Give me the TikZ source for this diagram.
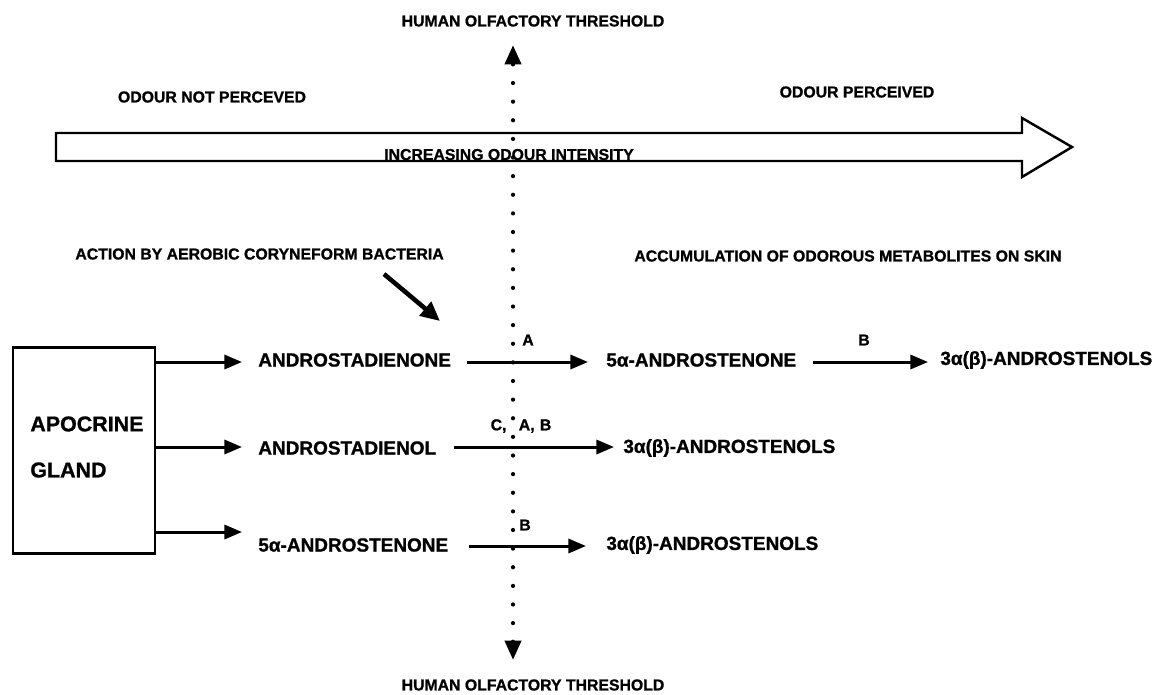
\documentclass[tikz,border=0pt]{standalone}
\usepackage{fontspec}
\setmainfont{Liberation Sans}
\newfontfamily\heavyfont{Liberation Sans Bold}[FakeBold=1.0]
\usetikzlibrary{arrows.meta}
\tikzset{
  small/.style={font=\heavyfont\fontsize{9}{11}\selectfont, inner sep=0pt},
  chem/.style={font=\heavyfont\fontsize{10.8}{13}\selectfont, inner sep=0pt, anchor=west},
  big/.style={font=\heavyfont\fontsize{12.2}{14}\selectfont, inner sep=0pt, anchor=west},
  flow/.style={line width=1.7pt, -{Triangle[length=10pt,width=8pt]}},
  thresh/.style={line width=2.4pt, line cap=round, dash pattern=on 0pt off 10.6pt,
     {Triangle[length=11pt,width=9pt]}-{Triangle[length=11pt,width=9pt]}},
}
\begin{document}
\begin{tikzpicture}[x=0.02cm,y=-0.02cm]
\useasboundingbox (0,0) rectangle (1165,694);

% big intensity arrow
\draw[line width=1.4pt, line join=miter] (56,133) -- (1022,133) -- (1022,118) -- (1072,147)
   -- (1022,177) -- (1022,161) -- (56,161) -- cycle;
\node[small, anchor=base] (inc) at (509,160) {INCREASING ODOUR INTENSITY};

% threshold
\node[small] (httop) at (533,21) {HUMAN OLFACTORY THRESHOLD};
\node[small] (htbot) at (533,685) {HUMAN OLFACTORY THRESHOLD};
\coordinate (ttop) at (513,45);
\coordinate (tbot) at (513,660);
\draw[thresh] (tbot) -- (ttop);

\node[small] (notp) at (212,97) {ODOUR NOT PERCEVED};
\node[small] (perc) at (857,92) {ODOUR PERCEIVED};

\node[small, anchor=west] (action) at (75,254) {ACTION BY AEROBIC CORYNEFORM BACTERIA};
\node[small, anchor=west] (accum) at (634,256) {ACCUMULATION OF ODOROUS METABOLITES ON SKIN};
\coordinate (actS) at (384,274);
\coordinate (actE) at (440,321);
\draw[line width=2.6pt, -{Triangle[length=11pt,width=10pt]}] (actS) -- (actE);

% gland box
\node[draw, line width=1.7pt, minimum width=142*0.02cm, minimum height=206*0.02cm, inner sep=0pt]
  (gland) at (84,450) {};
\node[big] (apo) at (30,424) {APOCRINE};
\node[big] (gl) at (30,470) {GLAND};

% row 1
\node[chem] (r1a) at (258,360) {ANDROSTADIENONE};
\node[chem] (r1b) at (606,360) {5α-ANDROSTENONE};
\node[chem] (r1c) at (940,360) {3α(β)-ANDROSTENOLS};
% row 2
\node[chem] (r2a) at (258,448) {ANDROSTADIENOL};
\node[chem] (r2b) at (623,448) {3α(β)-ANDROSTENOLS};
% row 3
\node[chem] (r3a) at (258,545) {5α-ANDROSTENONE};
\node[chem] (r3b) at (606,545) {3α(β)-ANDROSTENOLS};

% gland arrows
\draw[flow] ([yshift=-0.04cm]gland.east |- r1a.west) -- ([xshift=-0.32cm,yshift=-0.04cm]r1a.west);
\draw[flow] ([yshift=0.02cm]gland.east |- r2a.west) -- ([xshift=-0.32cm,yshift=0.02cm]r2a.west);
\draw[flow] ([yshift=0.26cm]gland.east |- r3a.west) -- ([xshift=-0.32cm,yshift=0.26cm]r3a.west);

% reaction arrows
\draw[flow] ([xshift=0.32cm,yshift=-0.04cm]r1a.east) -- ([xshift=-0.36cm,yshift=-0.04cm]r1b.west);
\draw[flow] ([xshift=0.32cm,yshift=-0.04cm]r1b.east) -- ([xshift=-0.24cm,yshift=-0.04cm]r1c.west);
\draw[flow] ([xshift=0.34cm,yshift=0.02cm]r2a.east) -- ([xshift=-0.18cm,yshift=0.02cm]r2b.west);
\draw[flow] ([xshift=0.40cm,yshift=-0.02cm]r3a.east) -- ([xshift=-0.40cm,yshift=-0.02cm]r3b.west);

\node[small] (lA) at (528,340) {A};
\node[small] (lB1) at (864,340) {B};
\node[small] (lCAB) at (521,426) {C,\,\,\, A,\,\,B};
\node[small] (lB3) at (525,525) {B};
\end{tikzpicture}
\end{document}
